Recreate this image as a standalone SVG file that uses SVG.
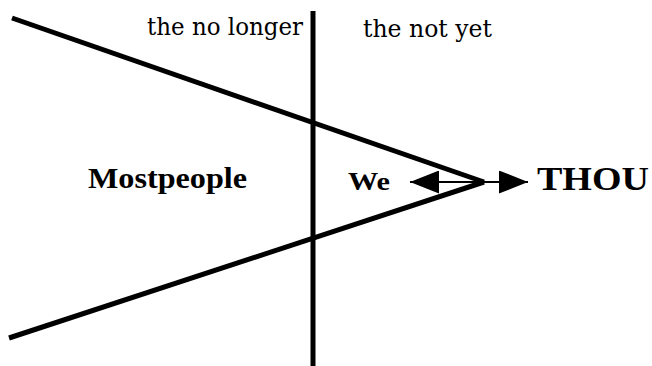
<svg xmlns="http://www.w3.org/2000/svg" width="652" height="366" viewBox="0 0 652 366">
<style>
.t{font-family:"Liberation Serif","Times New Roman",serif;fill:#000}
.r{font-family:"DejaVu Serif","Liberation Serif",serif;font-size:24px;fill:#000}
.b{font-weight:bold}
.thick{stroke:#000;stroke-width:5;fill:none}
.thin{stroke:#000;stroke-width:2;fill:none}
</style>
<defs>
<marker id="ah" viewBox="0 0 29 23" refX="29" refY="11.5" markerWidth="29" markerHeight="23" markerUnits="userSpaceOnUse" orient="auto-start-reverse">
<path d="M0,0 L29,11.5 L0,23 Z" fill="#000"/>
</marker>
</defs>
<rect width="652" height="366" fill="#fff"/>
<g id="connectors">
<line class="thick" x1="12" y1="18" x2="484" y2="182"/>
<line class="thick" x1="9" y1="338" x2="484" y2="182"/>
<line class="thick" x1="313" y1="11" x2="313" y2="366"/>
<line class="thin" x1="410" y1="182" x2="528" y2="182" marker-start="url(#ah)" marker-end="url(#ah)"/>
</g>
<g id="no-longer"><text class="r" x="147" y="35" textLength="156" lengthAdjust="spacingAndGlyphs">the no longer</text></g>
<g id="not-yet"><text class="r" x="363" y="37" textLength="129" lengthAdjust="spacingAndGlyphs">the not yet</text></g>
<g id="mostpeople"><text class="t b" x="88" y="188" font-size="30" textLength="159" lengthAdjust="spacingAndGlyphs">Mostpeople</text></g>
<g id="we"><text class="t b" x="348" y="190" font-size="26" textLength="42" lengthAdjust="spacingAndGlyphs">We</text></g>
<g id="thou"><text class="t b" x="537" y="190" font-size="34" textLength="112" lengthAdjust="spacingAndGlyphs">THOU</text></g>
</svg>
